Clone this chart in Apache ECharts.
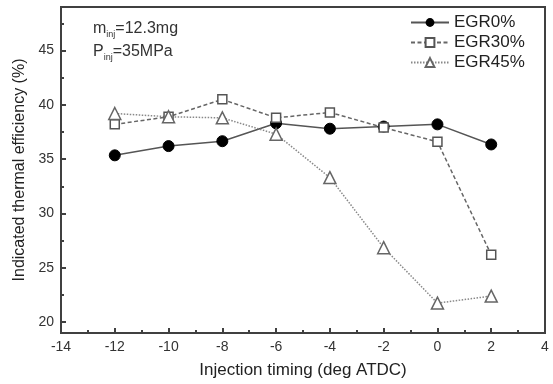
<!DOCTYPE html>
<html><head><meta charset="utf-8">
<script src="https://cdn.jsdelivr.net/npm/echarts@6/dist/echarts.min.js"></script>
<style>html,body{margin:0;padding:0;background:#fff}#c{width:553px;height:384px}</style>
</head><body><div id="c"></div>
<script>
const timing = [-12, -10, -8, -6, -4, -2, 0, 2];
const egr0 = [35.35, 36.2, 36.65, 38.3, 37.8, 38.0, 38.2, 36.35];
const egr30 = [38.2, 38.9, 40.5, 38.8, 39.3, 37.9, 36.6, 26.2];
const egr45 = [39.2, 38.9, 38.8, 37.3, 33.3, 26.85, 21.75, 22.4];
const yMajor = [20, 25, 30, 35, 40, 45];
const yMinor = [22.5, 27.5, 32.5, 37.5, 42.5, 47.5];
const names = ['EGR0%', 'EGR30%', 'EGR45%'];

const font = '"Liberation Sans", Arial, sans-serif';
const axisCol = '#404040';
const chart = echarts.init(document.getElementById('c'));
const pair = a => timing.map((t, i) => [t, a[i]]);
chart.setOption({
  animation: false,
  grid: { left: 61, right: 8, top: 7, bottom: 51, show: true, borderColor: axisCol, borderWidth: 2, outerBoundsMode: 'none', containLabel: false },
  legend: {
    left: 410, top: 14, padding: 0, orient: 'vertical', itemWidth: 38, itemHeight: 11, itemGap: 3,
    textStyle: { fontFamily: font, fontSize: 17, color: '#222' },
    data: names
  },
  graphic: [
    { type: 'text', left: 93, top: 21, style: { text: '{a|m}{s|inj}{a|=12.3mg}', rich: {
      a: { fontFamily: font, fontSize: 16, fill: '#333' },
      s: { fontFamily: font, fontSize: 9, fill: '#333', padding: [11, 0, 0, 0] } } } },
    { type: 'text', left: 93, top: 44, style: { text: '{a|P}{s|inj}{a|=35MPa}', rich: {
      a: { fontFamily: font, fontSize: 16, fill: '#333' },
      s: { fontFamily: font, fontSize: 9, fill: '#333', padding: [11, 0, 0, 0] } } } }
  ],
  xAxis: {
    type: 'value', min: -14, max: 4, interval: 2,
    name: 'Injection timing (deg ATDC)', nameLocation: 'middle', nameGap: 29,
    nameTextStyle: { fontFamily: font, fontSize: 17, color: '#222' },
    axisLine: { onZero: false, lineStyle: { color: axisCol, width: 2 } },
    axisTick: { inside: true, length: 5, lineStyle: { color: axisCol, width: 2 } },
    minorTick: { show: true, splitNumber: 2, length: 3, lineStyle: { color: axisCol, width: 2 } },
    axisLabel: { fontFamily: font, fontSize: 14, color: '#333', margin: 7 },
    splitLine: { show: false }
  },
  yAxis: [{
    type: 'value', min: 19, max: 49,
    name: 'Indicated thermal efficiency (%)', nameLocation: 'middle', nameGap: 32,
    nameTextStyle: { fontFamily: font, fontSize: 16, color: '#222' },
    axisLine: { onZero: false, lineStyle: { color: axisCol, width: 2 } },
    axisTick: { inside: true, length: 5, customValues: yMajor, lineStyle: { color: axisCol, width: 2 } },
    axisLabel: { fontFamily: font, fontSize: 14, color: '#333', margin: 7, customValues: yMajor },
    splitLine: { show: false }
  }, {
    type: 'value', min: 19, max: 49, position: 'left', offset: 0,
    axisLine: { show: false, onZero: false },
    axisTick: { inside: true, length: 3, customValues: yMinor, lineStyle: { color: axisCol, width: 2 } },
    axisLabel: { show: false, customValues: yMinor },
    splitLine: { show: false }
  }],
  series: [
    { name: names[0], type: 'line', data: pair(egr0), symbol: 'circle', symbolSize: 11,
      itemStyle: { color: '#000', borderColor: '#000' },
      lineStyle: { color: '#555', width: 1.5, type: 'solid' } },
    { name: names[1], type: 'line', data: pair(egr30), symbol: 'rect', symbolSize: 9,
      itemStyle: { color: '#fff', borderColor: '#555', borderWidth: 1.5 },
      lineStyle: { color: '#666', width: 1.5, type: [4, 2.5] } },
    { name: names[2], type: 'line', data: pair(egr45), symbol: 'triangle', symbolSize: 12,
      itemStyle: { color: '#fff', borderColor: '#666', borderWidth: 1.5 },
      lineStyle: { color: '#888', width: 1.5, type: [1.5, 1.5] } }
  ]
});
</script></body></html>
